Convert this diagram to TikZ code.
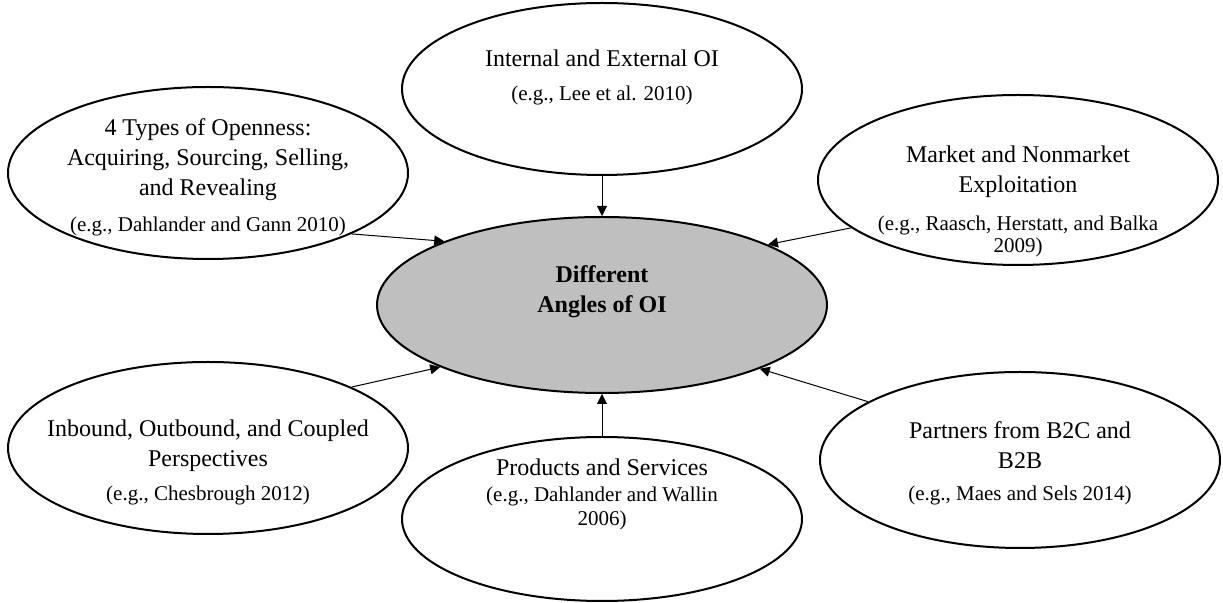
\documentclass[tikz,border=0pt]{standalone}
\usepackage{fontspec}
\setmainfont{Liberation Serif}
\usetikzlibrary{shapes.geometric,arrows.meta}

\newcommand{\egline}[1]{{\fontsize{10.5pt}{12pt}\selectfont #1}}

\tikzset{
    viewbox/.style={ellipse, draw, line width=1pt,
        minimum width=200pt, minimum height=86pt, inner sep=0pt},
    blurb/.style={align=center, inner sep=0pt,
        font=\fontsize{12pt}{15pt}\selectfont},
    core/.style={viewbox, fill=black!25, minimum width=225pt,
        minimum height=88pt},
    link/.style={->, line width=0.5pt}
}

\begin{document}
\begin{tikzpicture}[x=0.5pt, y=-0.5pt, >={Triangle[length=5pt,width=5pt]}]
    \useasboundingbox (0,0) rectangle (1223,603);

    \node[core] (oi) at (602,305) {};
    \node[blurb, font=\fontsize{12pt}{15pt}\selectfont\bfseries] (oi-text) at (602,292)
        {Different\\Angles of OI};

    % the six angles
    \node[viewbox] (internal) at (602,89) {};
    \node[viewbox] (types) at (208,173) {};
    \node[viewbox, minimum height=85pt] (market) at (1018,180) {};
    \node[viewbox] (bound) at (208,448) {};
    \node[viewbox, minimum height=82pt] (products) at (602,519) {};
    \node[viewbox, minimum height=88pt] (partners) at (1020,460) {};

    \node[blurb] (internal-text) at (602,77)
        {Internal and External OI\\[2pt]\egline{(e.g., Lee et al. 2010)}};
    \node[blurb] (types-text) at (208,177)
        {4 Types of Openness:\\Acquiring, Sourcing, Selling,\\and Revealing\\[3pt]\egline{(e.g., Dahlander and Gann 2010)}};
    \node[blurb] (market-text) at (1018,201)
        {Market and Nonmarket\\Exploitation\\[4pt]\egline{(e.g., Raasch, Herstatt, and Balka}\\[-4pt]\egline{2009)}};
    \node[blurb] (bound-text) at (208,462)
        {Inbound, Outbound, and Coupled\\Perspectives\\[2pt]\egline{(e.g., Chesbrough 2012)}};
    \node[blurb] (products-text) at (602,494)
        {Products and Services\\[-2pt]\egline{(e.g., Dahlander and Wallin}\\[-3pt]\egline{2006)}};
    \node[blurb] (partners-text) at (1020,463)
        {Partners from B2C and\\B2B\\[1pt]\egline{(e.g., Maes and Sels 2014)}};

    % arrows into the centre
    \draw[link] (internal) -- (oi);
    \draw[link] (types.337) -- (oi.158.7);
    \draw[link] (market.196.3) -- (oi.20.9);
    \draw[link] (bound.23.9) -- (oi.201.3);
    \draw[link] (products) -- (oi);
    \draw[link] (partners.159.7) -- (oi.338.5);
\end{tikzpicture}
\end{document}
